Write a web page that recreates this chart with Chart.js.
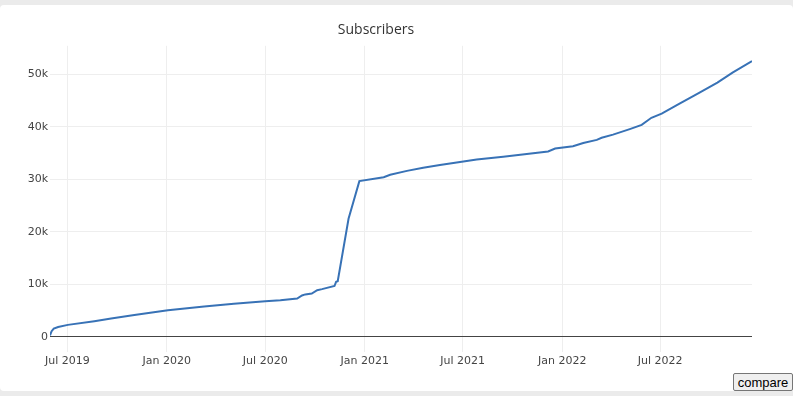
<!DOCTYPE html>
<html>
<head>
<meta charset="utf-8">
<script src="https://cdn.jsdelivr.net/npm/chart.js@4/dist/chart.umd.min.js"></script>
<style>
  html, body { margin: 0; padding: 0; background: #ebebeb; width: 793px; height: 396px; overflow: hidden; }
  #wrap { position: absolute; left: 0; top: 5px; width: 793px; height: 386px; background: #fff; border-radius: 4px; }
  #compare {
    position: absolute; left: 733px; top: 373px; width: 60px; height: 18px;
    font: 13px Arial, "Liberation Sans", sans-serif; color: #000;
    background: #efefef; border: 1px solid #767676; border-radius: 2px; padding: 0 3px;
  }
</style>
</head>
<body>
<div id="wrap"><canvas id="chart"></canvas></div>
<button id="compare">compare</button>
<script>
// Subscriber count over time
const dates = [
  '2019-05-30', '2019-06-02', '2019-06-06', '2019-06-14', '2019-07-02', '2019-08-20',
  '2019-09-20', '2019-11-02', '2020-01-03', '2020-03-10', '2020-05-04', '2020-07-01',
  '2020-07-29', '2020-08-29', '2020-09-07', '2020-09-13', '2020-09-25', '2020-10-05',
  '2020-10-14', '2020-11-06', '2020-11-09', '2020-11-12', '2020-12-02', '2020-12-22',
  '2021-02-05', '2021-02-17', '2021-03-20', '2021-04-19', '2021-05-20', '2021-06-20',
  '2021-07-27', '2021-09-14', '2021-12-06', '2021-12-19', '2022-01-21', '2022-02-09',
  '2022-03-06', '2022-03-15', '2022-04-05', '2022-05-06', '2022-05-28', '2022-06-15',
  '2022-07-04', '2022-08-06', '2022-09-07', '2022-10-15', '2022-11-12', '2022-12-18'
];
const subscribers = [
  300, 1100, 1600, 1900, 2300, 3000,
  3500, 4200, 5100, 5800, 6300, 6800,
  7000, 7300, 7900, 8100, 8250, 8900,
  9100, 9700, 10500, 10600, 22500, 29650,
  30400, 30850, 31600, 32200, 32700, 33200,
  33750, 34300, 35300, 35850, 36300, 36900,
  37500, 37900, 38500, 39550, 40350, 41700,
  42500, 44400, 46200, 48400, 50300, 52500
];

const xTickDates = ['2019-07-01', '2020-01-01', '2020-07-01', '2021-01-01', '2021-07-01', '2022-01-01', '2022-07-01'];
const xTickLabels = ['Jul 2019', 'Jan 2020', 'Jul 2020', 'Jan 2021', 'Jul 2021', 'Jan 2022', 'Jul 2022'];
const yTickValues = [0, 10000, 20000, 30000, 40000, 50000];
const yTickLabels = ['0', '10k', '20k', '30k', '40k', '50k'];

const toMs = d => new Date(d).getTime();
const points = dates.map((d, i) => ({ x: toMs(d), y: subscribers[i] }));
const xTickMs = xTickDates.map(toMs);

const tickFont = { family: '"DejaVu Sans", Verdana, sans-serif', size: 11 };

new Chart(document.getElementById('chart'), {
  type: 'line',
  data: {
    datasets: [{
      label: 'Subscribers',
      data: points,
      borderColor: '#3872b6',
      borderWidth: 2,
      pointRadius: 0,
      tension: 0,
      fill: false
    }]
  },
  options: {
    responsive: true,
    maintainAspectRatio: false,
    animation: false,
    layout: { padding: { top: 0, right: 41, bottom: 0, left: 0 } },
    plugins: {
      legend: { display: false },
      tooltip: { enabled: false },
      title: {
        display: true,
        text: 'Subscribers',
        color: '#333',
        font: { family: '"Open Sans", sans-serif', size: 14, weight: 'normal' },
        padding: { top: 17, bottom: 7 }
      }
    },
    scales: {
      x: {
        type: 'linear',
        min: points[0].x,
        max: points[points.length - 1].x,
        border: { display: false },
        grid: { color: '#eeeeee', drawTicks: false },
        afterBuildTicks: scale => { scale.ticks = xTickMs.map(v => ({ value: v })); },
        afterFit: scale => { scale.height = 39; },
        ticks: {
          autoSkip: false,
          maxRotation: 0,
          padding: 3,
          color: '#444',
          font: tickFont,
          callback: v => xTickLabels[xTickMs.indexOf(v)]
        }
      },
      y: {
        min: -2860,
        max: 55400,
        border: { display: false },
        grid: {
          drawTicks: false,
          color: ctx => (ctx.tick && ctx.tick.value === 0 ? '#444' : '#eeeeee')
        },
        afterBuildTicks: scale => { scale.ticks = yTickValues.map(v => ({ value: v })); },
        afterFit: scale => { scale.width = 50; },
        ticks: {
          padding: 2,
          color: '#444',
          font: tickFont,
          callback: v => yTickLabels[yTickValues.indexOf(v)]
        }
      }
    }
  }
});
</script>
</body>
</html>
